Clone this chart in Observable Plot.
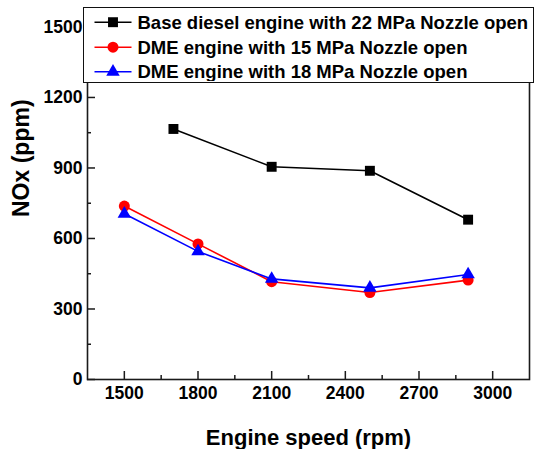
<!DOCTYPE html>
<html><head><meta charset="utf-8">
<script src="https://cdn.jsdelivr.net/npm/d3@7"></script>
<script src="https://cdn.jsdelivr.net/npm/@observablehq/plot@0.6"></script>
<style>
body{margin:0;background:#fff}
#wrap{position:relative;width:534px;height:449px;font-family:"Liberation Sans",Arial,sans-serif}
#legend{position:absolute;left:83px;top:7px;width:451px;height:76px;box-sizing:border-box;border:1.5px solid #111;background:#fff}
</style>
</head><body><div id="wrap"></div>
<script>
const speedsDiesel = [1700, 2100, 2500, 2900];
const noxDiesel = [1066, 905, 888, 680];
const speedsDME = [1500, 1800, 2100, 2500, 2900];
const noxDME15 = [738, 577, 416, 370, 423];
const noxDME18 = [705, 545, 428, 390, 447];
const seriesNames = ["Base diesel engine with 22 MPa Nozzle open", "DME engine with 15 MPa Nozzle open", "DME engine with 18 MPa Nozzle open"];
const seriesColors = ["#000000", "#ff0000", "#0000ff"];
const seriesSymbols = ["square", "circle", "triangle"];
const xTicks = [1500, 1800, 2100, 2400, 2700, 3000];
const xMinorTicks = [1650, 1950, 2250, 2550, 2850];
const yTicks = [0, 300, 600, 900, 1200, 1500];
const yMinorTicks = [150, 450, 750, 1050, 1350];
const xLabel = "Engine speed (rpm)";
const yLabel = "NOx (ppm)";

const W = 534, H = 449, mL = 87, mR = 5, mT = 10, mB = 70;
const iW = W - mL - mR, iH = H - mT - mB;
const symR = [5.6, 5.5, 5.0];

const seriesData = [
  speedsDiesel.map((s, i) => ({s, v: noxDiesel[i]})),
  speedsDME.map((s, i) => ({s, v: noxDME15[i]})),
  speedsDME.map((s, i) => ({s, v: noxDME18[i]}))
];

const axisColor = "#1a1a1a";
const marks = [
  Plot.frame({stroke: axisColor, strokeWidth: 1.6}),
  Plot.ruleX(xTicks, {x: d => d, insetTop: iH - 8, stroke: axisColor, strokeWidth: 1.5}),
  Plot.ruleX(xMinorTicks, {x: d => d, insetTop: iH - 4, stroke: axisColor, strokeWidth: 1.5}),
  Plot.ruleY(yTicks, {y: d => d, insetRight: iW - 8, stroke: axisColor, strokeWidth: 1.5}),
  Plot.ruleY(yMinorTicks, {y: d => d, insetRight: iW - 4, stroke: axisColor, strokeWidth: 1.5}),
  Plot.axisX({ticks: xTicks, tickSize: 0, tickPadding: 7, tickFormat: d => String(d), fontSize: 17.5, fontWeight: "bold", fill: "#000", label: null}),
  Plot.axisY({ticks: yTicks, tickSize: 0, tickPadding: 5, tickFormat: d => String(d), fontSize: 17.5, fontWeight: "bold", fill: "#000", label: null})
];
seriesData.forEach((data, k) => {
  marks.push(Plot.line(data, {x: "s", y: "v", stroke: seriesColors[k], strokeWidth: 1.6}));
  marks.push(Plot.dot(data, {x: "s", y: "v", symbol: seriesSymbols[k], r: symR[k], fill: seriesColors[k], stroke: "none"}));
});
marks.push(Plot.text([xLabel], {frameAnchor: "bottom", dy: 58, text: d => d, fontSize: 22, fontWeight: "bold", fill: "#000", lineAnchor: "middle"}));
marks.push(Plot.text([yLabel], {frameAnchor: "left", dx: -66, dy: 22, rotate: -90, text: d => d, fontSize: 23, fontWeight: "bold", fill: "#000", lineAnchor: "middle"}));

const chart = Plot.plot({
  width: W, height: H,
  marginLeft: mL, marginRight: mR, marginTop: mT, marginBottom: mB,
  x: {domain: [1350, 3150]},
  y: {domain: [0, 1570]},
  style: {fontFamily: '"Liberation Sans", Arial, sans-serif', background: "#fff", overflow: "visible"},
  marks
});
const wrap = document.getElementById("wrap");
wrap.appendChild(chart);

// legend
const leg = d3.select(wrap).append("div").attr("id", "legend");
const lsvg = leg.append("svg").attr("width", 448).attr("height", 73).style("position", "absolute").style("left", "0").style("top", "0");
const rowY = [14.2, 39.2, 63.8];
seriesNames.forEach((name, k) => {
  const g = lsvg.append("g").attr("transform", `translate(0,${rowY[k]})`);
  g.append("line").attr("x1", 10.5).attr("x2", 47.5).attr("y1", 0).attr("y2", 0).attr("stroke", seriesColors[k]).attr("stroke-width", 1.6);
  const symType = {square: d3.symbolSquare, circle: d3.symbolCircle, triangle: d3.symbolTriangle}[seriesSymbols[k]];
  g.append("path").attr("transform", "translate(29,0)").attr("d", d3.symbol(symType, Math.PI * symR[k] * symR[k])()).attr("fill", seriesColors[k]);
  g.append("text").attr("x", 53.5).attr("y", 6.6).attr("font-size", 18.5).attr("font-weight", "bold").attr("font-family", '"Liberation Sans", Arial, sans-serif').attr("fill", "#000").text(name);
});
</script>
</body></html>
